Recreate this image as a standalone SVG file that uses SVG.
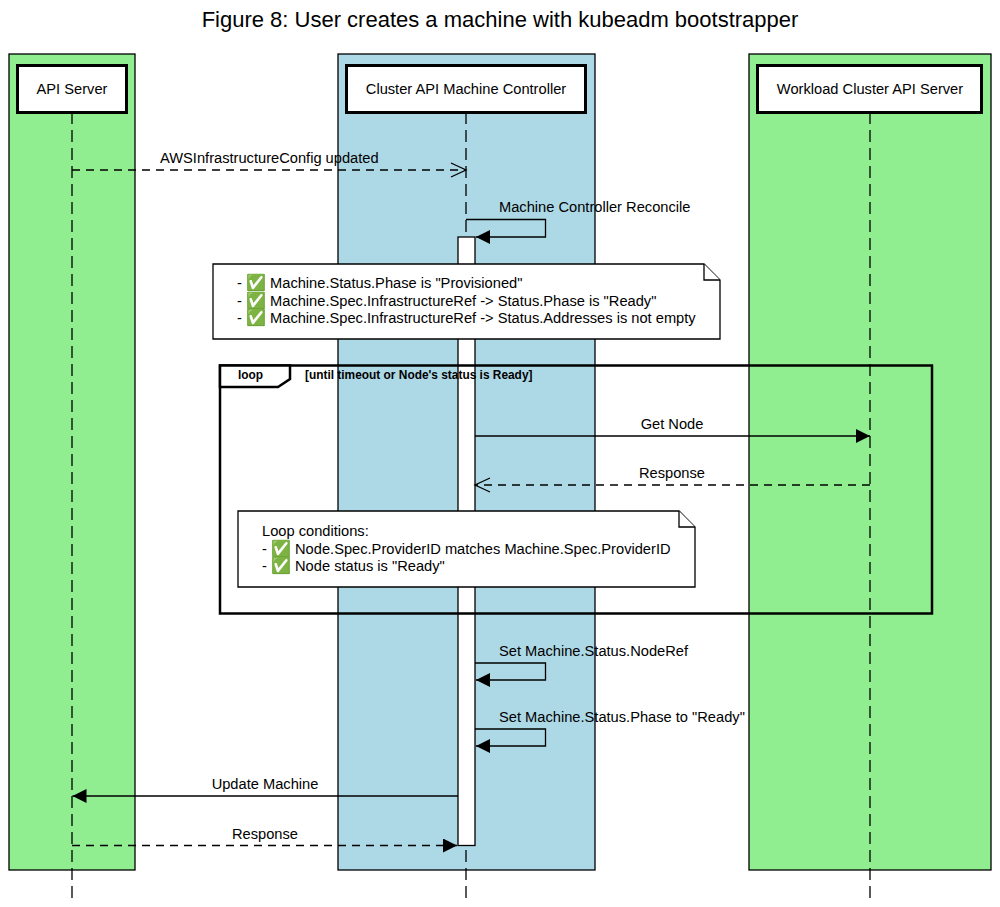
<svg xmlns="http://www.w3.org/2000/svg" width="1000" height="907" viewBox="0 0 1000 907">
<style>
text{font-family:"Liberation Sans",Arial,sans-serif;font-size:14.67px;fill:#000}
.m{text-anchor:middle}
.band{stroke:#000;stroke-width:1.3}
.actor{fill:#fff;stroke:#000;stroke-width:3}
.life{fill:none;stroke:#000;stroke-width:1.3;stroke-dasharray:12 6}
.msg{fill:none;stroke:#000;stroke-width:1.3}
.dash{stroke-dasharray:8 6}
.note{fill:#fff;stroke:#000;stroke-width:1.3}
.b{font-size:11.9px;font-weight:bold}
.e{font-size:16px}
</style>
<defs>
<marker id="solid" markerUnits="userSpaceOnUse" markerWidth="15" markerHeight="14" refX="14" refY="7" orient="auto"><path d="M0 0L14 7L0 14Z" fill="#000"/></marker>
<marker id="open" markerUnits="userSpaceOnUse" markerWidth="18" markerHeight="16" refX="16" refY="8" orient="auto"><path d="M1 1L16 8L1 15" fill="none" stroke="#000" stroke-width="1.3"/></marker>
</defs>
<text class="m" x="500" y="27" style="font-size:22px">Figure 8: User creates a machine with kubeadm bootstrapper</text>
<rect class="band" x="9" y="54" width="126" height="816" fill="#90ee90"/>
<rect class="band" x="338" y="54" width="257" height="816" fill="#add8e6"/>
<rect class="band" x="749" y="54" width="242" height="816" fill="#90ee90"/>
<g id="lifelines">
<path class="life" d="M72 112V902"/><path class="life" d="M466 112V902"/><path class="life" d="M870 112V902"/>
</g>
<g id="node-api"><rect class="actor" x="17.500" y="65.500" width="109" height="47"/><text class="m" x="72" y="94">API Server</text></g>
<g id="node-controller"><rect class="actor" x="346.500" y="65.500" width="239" height="47"/><text class="m" x="466" y="94">Cluster API Machine Controller</text></g>
<g id="node-workload"><rect class="actor" x="757.500" y="65.500" width="224" height="47"/><text class="m" x="870" y="94">Workload Cluster API Server</text></g>
<g id="activation"><rect x="458" y="237" width="17" height="608.500" fill="#fff" stroke="#000" stroke-width="1.3"/></g>
<g id="connectors">
<path class="msg dash" d="M72 170H466" marker-end="url(#open)"/>
<path class="msg" d="M466 219.500H545.500V237H476" marker-end="url(#solid)"/>
<path class="msg" d="M475 436H870" marker-end="url(#solid)"/>
<path class="msg dash" d="M870 485H475" marker-end="url(#open)"/>
<path class="msg" d="M475 663H545.500V680H476" marker-end="url(#solid)"/>
<path class="msg" d="M475 729H545.500V746H476" marker-end="url(#solid)"/>
<path class="msg" d="M458 796H72.500" marker-end="url(#solid)"/>
<path class="msg dash" d="M72 845.500H457" marker-end="url(#solid)"/>
</g>
<g id="labels">
<text x="160" y="163">AWSInfrastructureConfig updated</text>
<text x="499" y="212">Machine Controller Reconcile</text>
<text class="m" x="672" y="429">Get Node</text>
<text class="m" x="672" y="478">Response</text>
<text x="499" y="656">Set Machine.Status.NodeRef</text>
<text x="499" y="722">Set Machine.Status.Phase to "Ready"</text>
<text class="m" x="265" y="789">Update Machine</text>
<text class="m" x="265" y="839">Response</text>
</g>
<g id="note-1">
<path class="note" d="M213 264H704L720 280V339H213Z"/><path class="note" d="M704 264V280H720"/>
<text x="237" y="288">- <tspan class="e">✅</tspan> Machine.Status.Phase is "Provisioned"</text>
<text x="237" y="306">- <tspan class="e">✅</tspan> Machine.Spec.InfrastructureRef -&gt; Status.Phase is "Ready"</text>
<text x="237" y="323">- <tspan class="e">✅</tspan> Machine.Spec.InfrastructureRef -&gt; Status.Addresses is not empty</text>
</g>
<g id="loop">
<rect x="220" y="365.500" width="712" height="248" fill="none" stroke="#000" stroke-width="2.500"/>
<path d="M220 365.500H290V379L278 387H220Z" fill="#fff" stroke="#000" stroke-width="2.500"/>
<text class="b" x="238" y="379">loop</text>
<text class="b" x="305" y="379">[until timeout or Node's status is Ready]</text>
</g>
<g id="note-2">
<path class="note" d="M238 511H679L695 527V587H238Z"/><path class="note" d="M679 511V527H695"/>
<text x="262" y="536">Loop conditions:</text>
<text x="262" y="554">- <tspan class="e">✅</tspan> Node.Spec.ProviderID matches Machine.Spec.ProviderID</text>
<text x="262" y="571">- <tspan class="e">✅</tspan> Node status is "Ready"</text>
</g>
</svg>
